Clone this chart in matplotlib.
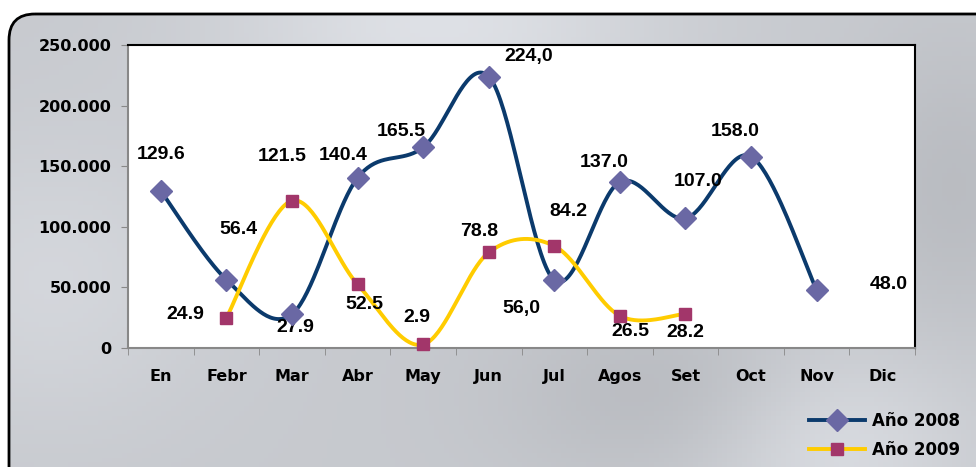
import numpy as np
import matplotlib.pyplot as plt
from matplotlib.patches import FancyBboxPatch

# data (values in thousands)
months = ["En", "Febr", "Mar", "Abr", "May", "Jun", "Jul", "Agos", "Set", "Oct", "Nov", "Dic"]
vals_2008 = [129.6, 56.4, 27.9, 140.4, 165.5, 224.0, 56.0, 137.0, 107.0, 158.0, 48.0]
labels_2008 = ["129.6", "56.4", "27.9", "140.4", "165.5", "224,0", "56,0", "137.0", "107.0", "158.0", "48.0"]
vals_2009 = [24.9, 121.5, 52.5, 2.9, 78.8, 84.2, 26.5, 28.2]
labels_2009 = ["24.9", "121.5", "52.5", "2.9", "78.8", "84.2", "26.5", "28.2"]
start_2009 = 1  # Febr

yticks = [0, 50000, 100000, 150000, 200000, 250000]
ytick_labels = ["0", "50.000", "100.000", "150.000", "200.000", "250.000"]

# label offsets in pixels (dx, dy), dy up
off_2008 = [(0, 36), (12, 50), (3, -13), (-14, 22), (-22, 16), (40, 20), (-33, -28), (-16, 19), (13, 37), (-16, 25), (72, 5)]
off_2009 = [(-41, 3), (-10, 44), (7, -20), (-6, 27), (-10, 21), (14, 34), (10, -16), (0, -19)]


def smooth(x, y, n=40):
    # Catmull-Rom style bezier, like the office "smoothed line"
    x = np.asarray(x, float)
    y = np.asarray(y, float)
    px, py = [], []
    for i in range(len(x) - 1):
        i0 = max(i - 1, 0)
        i3 = min(i + 2, len(x) - 1)
        p0 = np.array([x[i], y[i]])
        p3 = np.array([x[i + 1], y[i + 1]])
        c1 = p0 + (p3 - np.array([x[i0], y[i0]])) / 6
        c2 = p3 - (np.array([x[i3], y[i3]]) - p0) / 6
        t = np.linspace(0, 1, n)[:, None]
        pts = (1 - t) ** 3 * p0 + 3 * (1 - t) ** 2 * t * c1 + 3 * (1 - t) * t ** 2 * c2 + t ** 3 * p3
        px.extend(pts[:, 0])
        py.extend(pts[:, 1])
    return np.array(px), np.array(py)


W, H = 976, 467
fig = plt.figure(figsize=(W / 100, H / 100), dpi=100, facecolor="white")

# background panel with grey gradient
bg = fig.add_axes([0, 0, 1, 1])
bg.set_xlim(0, W)
bg.set_ylim(H, 0)
bg.axis("off")
gx, gy = np.meshgrid(np.linspace(0, 1, 200), np.linspace(0, 1, 100))
field = (0.80
         + 0.09 * np.exp(-((gx - 0.45) ** 2 / 0.05 + (gy - 0.05) ** 2 / 0.05))
         + 0.08 * np.exp(-((gx - 0.85) ** 2 / 0.02 + (gy - 0.95) ** 2 / 0.05))
         + 0.05 * np.exp(-((gx - 0.05) ** 2 / 0.03 + (gy - 0.6) ** 2 / 0.1))
         - 0.06 * np.exp(-((gx - 0.7) ** 2 / 0.03 + (gy - 0.85) ** 2 / 0.04))
         - 0.05 * np.exp(-((gx - 0.98) ** 2 / 0.01 + (gy - 0.4) ** 2 / 0.1)))
img = np.dstack([field - 0.02, field - 0.01, field + 0.01]).clip(0, 1)
im = bg.imshow(img, extent=[0, W, H, 0], aspect="auto", zorder=0)
panel = FancyBboxPatch((9, 14), W + 40, H + 40, boxstyle="round,pad=0,rounding_size=26",
                       facecolor="none", edgecolor="black", linewidth=2, zorder=1)
bg.add_patch(panel)
im.set_clip_path(panel)

# plot area
ax = fig.add_axes([128 / W, 1 - 348 / H, (915 - 128) / W, (348 - 45) / H])
ax.set_facecolor("white")
x = np.arange(len(months))
ax.set_xlim(-0.5, len(months) - 0.5)
ax.set_ylim(0, 250000)

x08 = x[:len(vals_2008)]
y08 = np.array(vals_2008) * 1000
x09 = x[start_2009:start_2009 + len(vals_2009)]
y09 = np.array(vals_2009) * 1000

sx, sy = smooth(x08, y08)
ax.plot(sx, sy, color="#0b3a6c", lw=2.8, zorder=3, clip_on=False)
ax.plot(x08, y08, ls="none", marker="D", ms=11, color="#6a68a4", mec="#6a68a4", zorder=4, clip_on=False)
sx, sy = smooth(x09, y09)
ax.plot(sx, sy, color="#ffcc00", lw=2.8, zorder=3, clip_on=False)
ax.plot(x09, y09, ls="none", marker="s", ms=8.5, color="#a2366a", mec="#a2366a", zorder=4, clip_on=False)

lab_font = dict(family="Liberation Sans", fontsize=14, fontweight="bold", ha="center", va="center")
for xi, yi, t, o in zip(x08, y08, labels_2008, off_2008):
    ax.annotate(t, (xi, yi), xytext=o, textcoords="offset pixels", **lab_font, annotation_clip=False)
for xi, yi, t, o in zip(x09, y09, labels_2009, off_2009):
    ax.annotate(t, (xi, yi), xytext=o, textcoords="offset pixels", **lab_font, annotation_clip=False)

ax.set_xticks(x)
ax.set_xticklabels(months)
ax.set_xticks(np.arange(-0.5, len(months)), minor=True)
ax.tick_params(axis="x", which="major", length=0, pad=15)
ax.tick_params(axis="x", which="minor", length=5, color="#888888")
ax.set_yticks(yticks)
ax.set_yticklabels(ytick_labels)
ax.tick_params(axis="y", length=5, color="#888888", pad=7)
for lab in ax.get_xticklabels() + ax.get_yticklabels():
    lab.set_fontweight("bold")
    lab.set_fontsize(11.5)
ax.spines["left"].set_color("#888888")
ax.spines["bottom"].set_color("#888888")
ax.spines["top"].set_color("black")
ax.spines["right"].set_color("black")
for s in ax.spines.values():
    s.set_linewidth(1.5)

# legend
h1, = bg.plot([], [], color="#0b3a6c", lw=2.8, marker="D", ms=11, mfc="#6a68a4", mec="#6a68a4")
h2, = bg.plot([], [], color="#ffcc00", lw=2.8, marker="s", ms=8.5, mfc="#a2366a", mec="#a2366a")
leg = fig.legend([h1, h2], ["Año 2008", "Año 2009"], loc="lower right", bbox_to_anchor=(0.999, -0.014),
                 frameon=False, prop=dict(weight="bold", size=12), handlelength=3.4, labelspacing=0.65,
                 handletextpad=0.4)

fig.savefig("out.png", dpi=100, facecolor="white")
